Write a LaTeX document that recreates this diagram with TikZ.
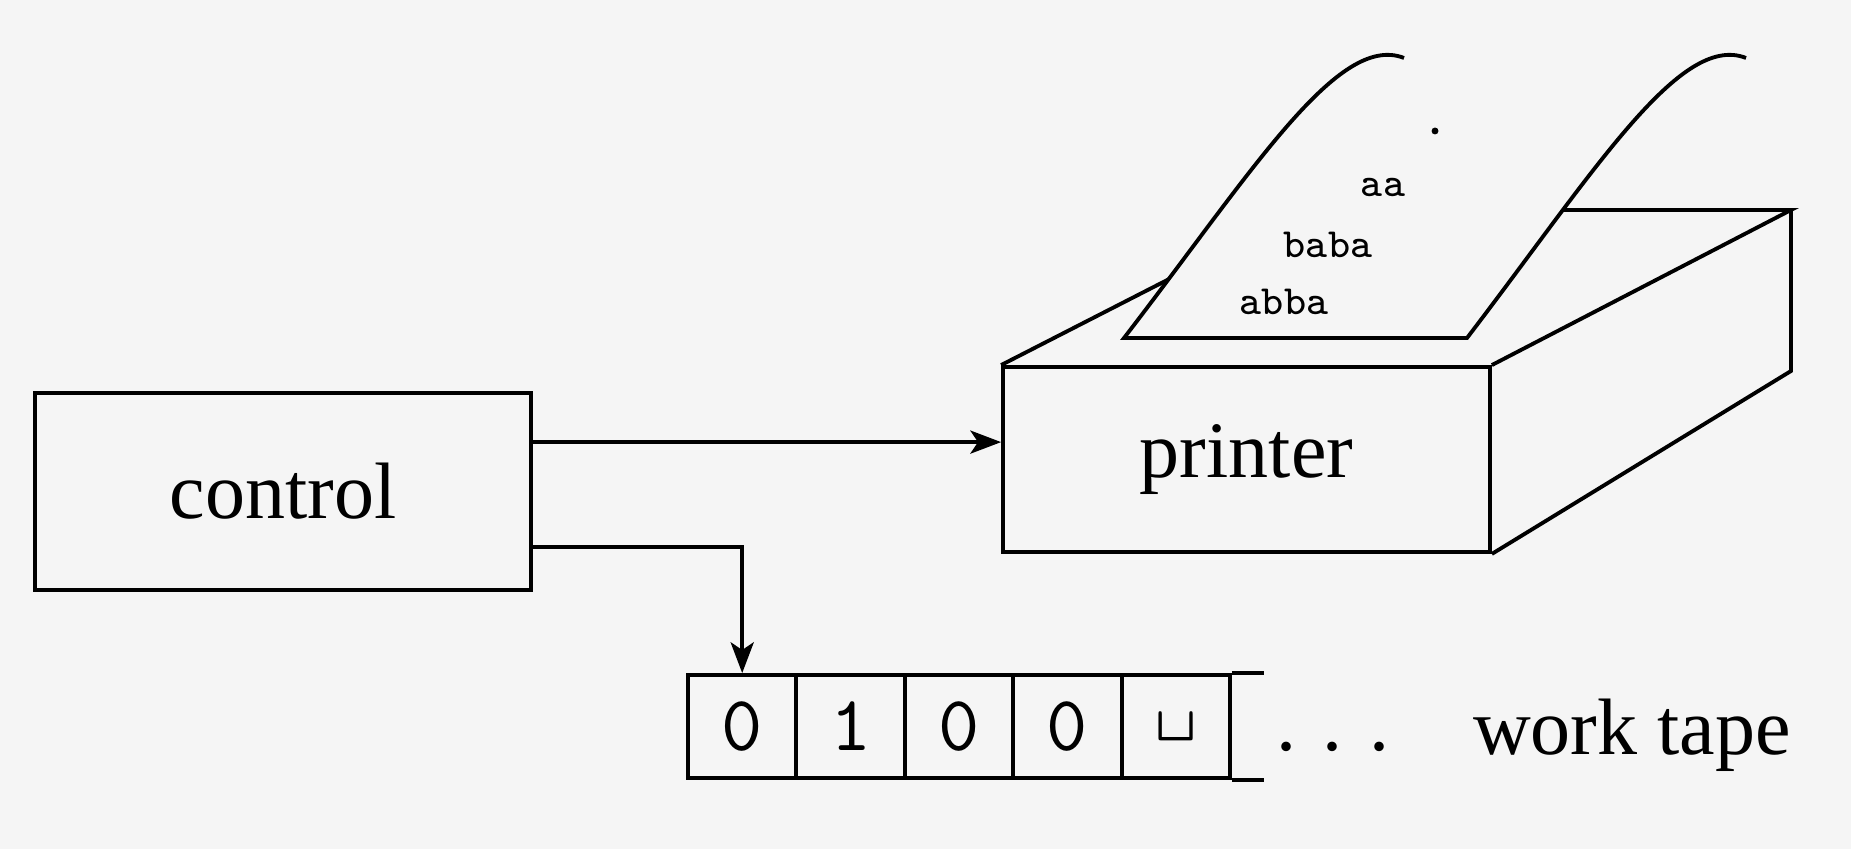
\documentclass[tikz,border=0pt]{standalone}
\usepackage{fontspec}
\setmainfont{Liberation Serif}
\usetikzlibrary{arrows.meta,calc}

\definecolor{page}{gray}{0.96}
\tikzset{every picture/.style={line width=0.5pt}}

\begin{document}
\begin{tikzpicture}[x=0.13pt,y=0.13pt,yscale=-1,xscale=1,
	box/.style={draw,fill=page,inner sep=0pt},
	lbl/.style={font=\fontsize{10.4}{12}\selectfont},
	cell/.style={draw,minimum width=14.09pt,minimum height=13.39pt,inner sep=0pt,font=\ttfamily\fontsize{10.2}{12}\selectfont},
	slip/.style={font=\ttfamily\fontsize{5.4}{6}\selectfont,anchor=base},
	feed/.style={-{Stealth[length=4pt,width=3pt,inset=1pt]}}]

	%page
	\fill[page] (0,0) rectangle (1851,849);

	%Shape: control box
	\node[box,lbl,minimum width=64.5pt,minimum height=25.6pt] (control) at (283,491.5) {control};

	%Shape: printer, front face
	\node[box,lbl,minimum width=63.3pt,minimum height=24.05pt] (printer) at (1246.5,459.5) {printer};
	%top and right faces
	\draw (printer.north west) -- (1304,210) -- (1791,210) -- (printer.north east) ;
	\draw (1791,210) -- (1791,371) -- (printer.south east) ;

	%Shape: paper coming out of the printer
	\filldraw[fill=page] (1404,58) .. controls (1338,32) and (1252,172) .. (1124,338) -- (1467,338) .. controls (1594,172) and (1680,32) .. (1746,58) ;
	\fill (1435,131) circle [radius=0.45pt] ;

	% Text Node
	\node[slip] (out1) at (1383,197) {aa};
	% Text Node
	\node[slip] (out2) at (1328,258) {baba};
	% Text Node
	\node[slip] (out3) at (1284,315) {abba};

	%Shape: work tape
	\foreach \s [count=\i] in {0,1,0,0,\textvisiblespace}
		\node[cell] (cell\i) at ({688+108.4*(\i-0.5)},726.5) {\s};
	\draw (cell5.north east) -- ++(32,0) ;
	\draw (cell5.south east) -- ++(32,0) ;

	% Text Node
	\node[lbl,anchor=base] (dots) at (1333,751) {. . .};
	% Text Node
	\node[lbl,anchor=base] (wtape) at (1632,755) {work tape};

	%Straight Lines
	\coordinate (toprinter) at ($(control.north east)+(0,51)$);
	\coordinate (totape) at ($(control.north east)+(0,156)$);
	\draw[feed] (toprinter) -- (toprinter -| printer.west) ;
	\draw[feed] (totape) -| (cell1.north) ;

\end{tikzpicture}
\end{document}
